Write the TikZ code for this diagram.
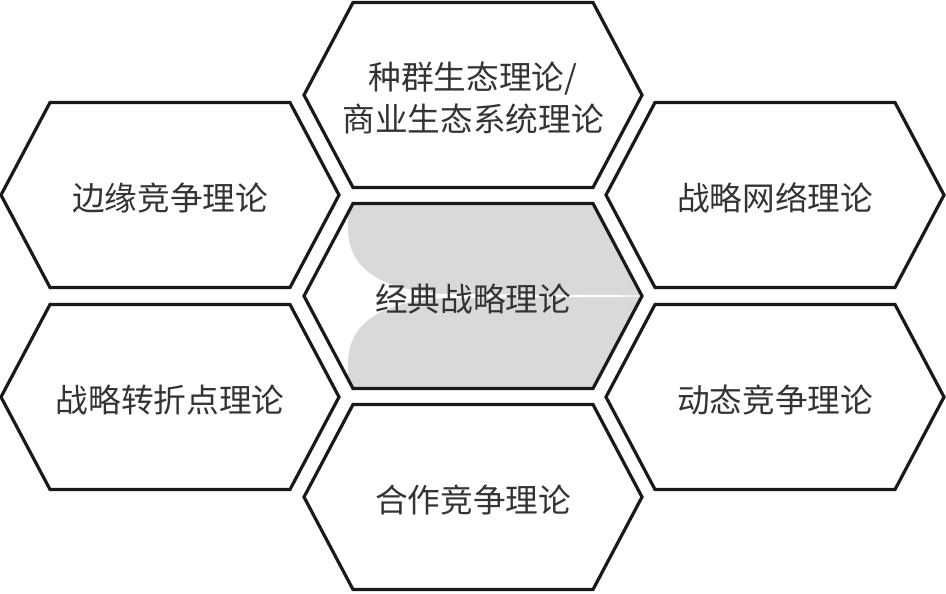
\documentclass[tikz,border=0pt]{standalone}
\usepackage{fontspec}
\newfontfamily\cjk{Noto Sans CJK SC}
\usetikzlibrary{positioning}
\pgfdeclarelayer{bg}
\pgfsetlayers{bg,main}

\begin{document}
\begin{tikzpicture}[x=0.75pt, y=-0.75pt,
    theory/.style={font=\cjk\fontsize{24.5}{31}\selectfont, text=black!80, align=center},
    hexline/.style={draw=black!90, line width=2.4pt, line join=miter}]
    \useasboundingbox (0,0) rectangle (946,593);
    \node[theory] (core) at (473,299) {经典战略理论};
    \node[theory] (eco) at (473,98) {种群生态理论/\\商业生态系统理论};
    \node[theory] (coop) at (473,500) {合作竞争理论};
    \node[theory] (edge) at (170,198) {边缘竞争理论};
    \node[theory] (turn) at (170,400) {战略转折点理论};
    \node[theory] (net) at (775,198) {战略网络理论};
    \node[theory] (dyn) at (775,400) {动态竞争理论};
    \begin{pgfonlayer}{bg}
      % grey fill with the white funnel of the core
      \begin{scope}
        \clip ([shift={(-169,-3)}]core.center) -- ++(49,-92.5) -- ++(240,0) -- ++(49,92.5) -- ++(-49,92.5) -- ++(-240,0) -- cycle;
        \fill[black!15] ([shift={(-170,-98)}]core.center) rectangle ([shift={(170,92)}]core.center);
        \fill[white] ([shift={(-125,-98)}]core.center) -- ([shift={(-125,-67)}]core.center)
          .. controls ([shift={(-123,-27)}]core.center) and ([shift={(-88,-9)}]core.center) .. ([shift={(-30,-5)}]core.center)
          -- ([shift={(170,-3.6)}]core.center) -- ([shift={(170,-2.4)}]core.center) -- ([shift={(-30,-1)}]core.center)
          .. controls ([shift={(-88,3)}]core.center) and ([shift={(-123,21)}]core.center) .. ([shift={(-125,61)}]core.center)
          -- ([shift={(-125,92)}]core.center) -- ([shift={(-170,92)}]core.center) -- ([shift={(-170,-98)}]core.center) -- cycle;
      \end{scope}
    \end{pgfonlayer}
    \foreach \n in {core,eco,coop,edge,turn,net,dyn}
      \draw[hexline] ([shift={(-169,-3)}]\n.center) -- ++(49,-92.5) -- ++(240,0) -- ++(49,92.5) -- ++(-49,92.5) -- ++(-240,0) -- cycle;
  \end{tikzpicture}
\end{document}
